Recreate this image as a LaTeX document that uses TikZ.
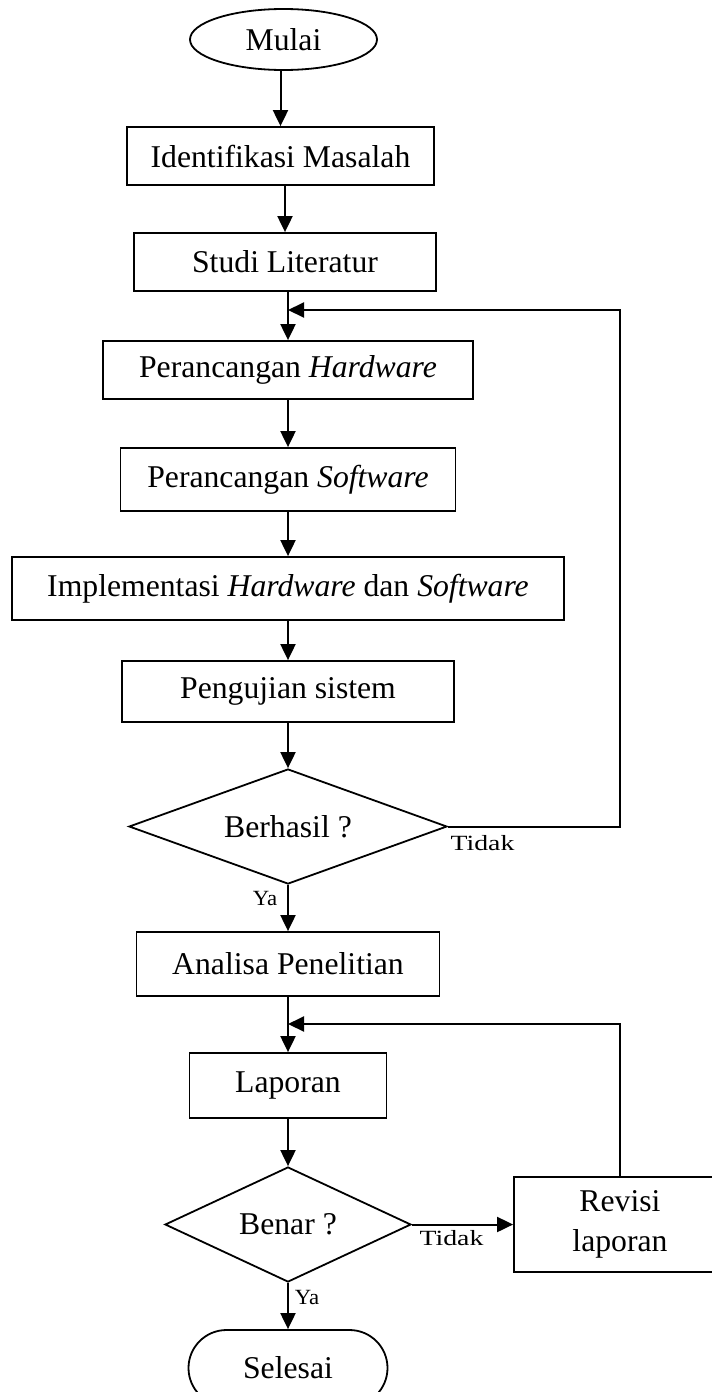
\documentclass[tikz,border=0pt]{standalone}
\usepackage{fontspec}
\setmainfont{Liberation Serif}
\usetikzlibrary{shapes.geometric,arrows.meta}

\begin{document}
\begin{tikzpicture}[x=1pt,y=-1pt,
  every node/.style={font=\fontsize{31.7}{40}\selectfont},
  box/.style={draw, line width=1.8pt, rectangle, inner sep=0pt, align=center},
  decision/.style={draw, line width=1.8pt, diamond, inner sep=0pt, shape aspect=2.5},
  terminal/.style={draw, line width=1.8pt, ellipse, inner sep=0pt},
  flow/.style={line width=2pt, -{Triangle[length=16pt,width=15pt]}},
  edgelabel/.style={inner sep=0pt, font=\fontsize{21.7}{24}\selectfont}]

% page frame
\useasboundingbox (0,0) rectangle (712,1392);
\clip (0,0) rectangle (712,1392);
\fill[white] (0,0) rectangle (712,1392);

% main column
\node[terminal, minimum width=187, minimum height=61] (mulai) at (283.5,39.5) {\raisebox{-5pt}{Mulai}};
\node[box, minimum width=307, minimum height=58] (ident) at (280.5,156) {Identifikasi Masalah};
\node[box, minimum width=302, minimum height=58] (studi) at (285,262) {Studi Literatur};
\node[box, minimum width=370, minimum height=58] (hw) at (288,370) {Perancangan \textit{Hardware}};
\node[box, minimum width=335, minimum height=63] (sw) at (288,479.5) {Perancangan \textit{Software}};
\node[box, minimum width=552, minimum height=63] (impl) at (288,588.5) {Implementasi \textit{Hardware} dan \textit{Software}};
\node[box, minimum width=332, minimum height=61] (uji) at (288,691.5) {Pengujian sistem};
\node[decision, minimum width=318, minimum height=115] (ber) at (288,826.5) {Berhasil ?};
\node[box, minimum width=303, minimum height=64] (anal) at (288,964) {Analisa Penelitian};
\node[box, minimum width=197, minimum height=65] (lap) at (288,1085.5) {Laporan};
\node[decision, minimum width=246, minimum height=115] (ben) at (288,1224.5) {Benar ?};
\node[box, minimum width=212, minimum height=95] (rev) at (620,1224.5) {Revisi\\laporan};
\node[box, rounded corners=38pt, minimum width=199, minimum height=76] (sel) at (288,1368) {Selesai};

% branch labels
\node[edgelabel] (t1) at (482.5,843) {\scalebox{1.28}[1]{Tidak}};
\node[edgelabel] (y1) at (265,898) {\scalebox{1.05}[1]{Ya}};
\node[edgelabel] (t2) at (451.5,1238) {\scalebox{1.28}[1]{Tidak}};
\node[edgelabel] (y2) at (307,1297) {\scalebox{1.05}[1]{Ya}};

% loop-back points
\coordinate (fb1) at (288,310);
\coordinate (fb2) at (288,1024);
\coordinate (rx) at (620,0);

% forward flow
\draw[flow] (mulai.south -| ident.north) -- (ident.north);
\draw[flow] (ident.south -| studi.north) -- (studi.north);
\draw[flow] (studi.south -| hw.north) -- (hw.north);
\draw[flow] (hw) -- (sw);
\draw[flow] (sw) -- (impl);
\draw[flow] (impl) -- (uji);
\draw[flow] (uji) -- (ber);
\draw[flow] (ber) -- (anal);
\draw[flow] (anal) -- (lap);
\draw[flow] (lap) -- (ben);
\draw[flow] (ben) -- (sel);
\draw[flow] (ben) -- (rev);

% loops back
\draw[flow] (ber.east) -- (ber.east -| rx) -- (rx |- fb1) -- (fb1);
\draw[flow] (rev.north) |- (fb2);
\end{tikzpicture}
\end{document}
